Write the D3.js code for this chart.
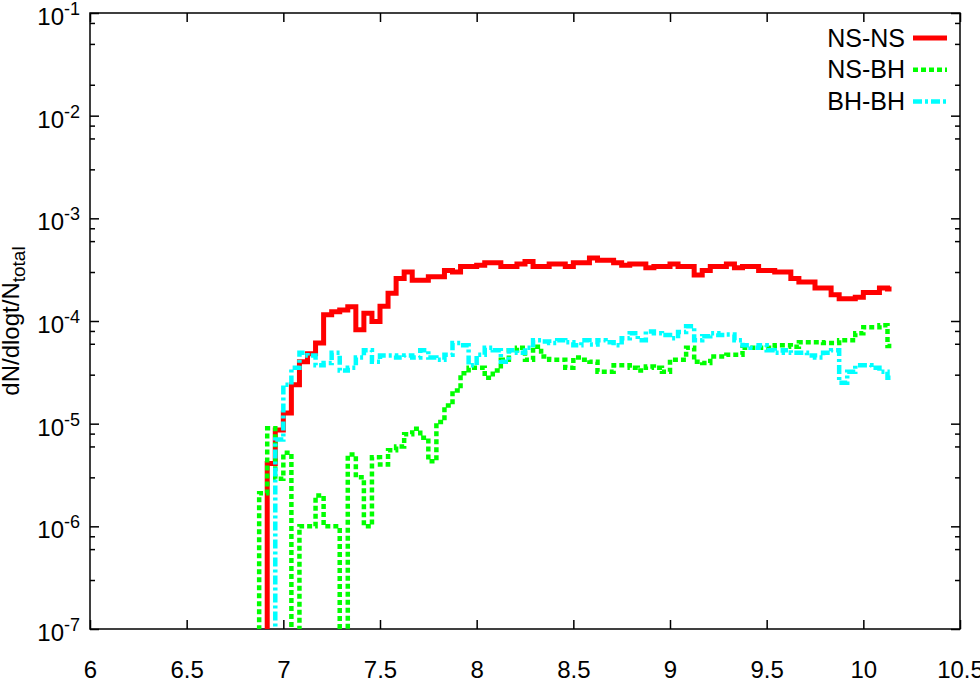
<!DOCTYPE html>
<html>
<head>
<meta charset="utf-8">
<script src="https://cdn.jsdelivr.net/npm/d3@7"></script>
<style>
  body { margin: 0; background: #fff; }
  svg { display: block; font-family: "Liberation Sans", Arial, sans-serif; }
</style>
</head>
<body>
<div id="chart"></div>
<script>
// bin centres in log t (1/24 wide bins)
const logT = [6.8542, 6.8958, 6.9375, 6.9792, 7.0208, 7.0625, 7.1042, 7.1458, 7.1875, 7.2292,
  7.2708, 7.3125, 7.3542, 7.3958, 7.4375, 7.4792, 7.5208, 7.5625, 7.6042, 7.6458,
  7.6875, 7.7292, 7.7708, 7.8125, 7.8542, 7.8958, 7.9375, 7.9792, 8.0208, 8.0625,
  8.1042, 8.1458, 8.1875, 8.2292, 8.2708, 8.3125, 8.3542, 8.3958, 8.4375, 8.4792,
  8.5208, 8.5625, 8.6042, 8.6458, 8.6875, 8.7292, 8.7708, 8.8125, 8.8542, 8.8958,
  8.9375, 8.9792, 9.0208, 9.0625, 9.1042, 9.1458, 9.1875, 9.2292, 9.2708, 9.3125,
  9.3542, 9.3958, 9.4375, 9.4792, 9.5208, 9.5625, 9.6042, 9.6458, 9.6875, 9.7292,
  9.7708, 9.8125, 9.8542, 9.8958, 9.9375, 9.9792, 10.0208, 10.0625, 10.1042, 10.1458];

const nsns = [0, 0, 4.1e-6, 8.7e-6, 1.27e-5, 2.4e-5, 4.0e-5, 4.8e-5, 6.1e-5, 1.15e-4,
  1.23e-4, 1.28e-4, 1.38e-4, 8.2e-5, 1.19e-4, 9.9e-5, 1.39e-4, 1.86e-4, 2.6e-4, 3.0e-4,
  2.5e-4, 2.5e-4, 2.7e-4, 2.7e-4, 3.1e-4, 3.0e-4, 3.4e-4, 3.4e-4, 3.5e-4, 3.7e-4,
  3.7e-4, 3.4e-4, 3.4e-4, 3.6e-4, 3.8e-4, 3.4e-4, 3.4e-4, 3.6e-4, 3.6e-4, 3.4e-4,
  3.7e-4, 3.7e-4, 4.1e-4, 3.9e-4, 3.9e-4, 3.7e-4, 3.5e-4, 3.6e-4, 3.6e-4, 3.3e-4,
  3.4e-4, 3.4e-4, 3.6e-4, 3.4e-4, 3.4e-4, 2.8e-4, 3.1e-4, 3.4e-4, 3.4e-4, 3.6e-4,
  3.3e-4, 3.4e-4, 3.4e-4, 3.1e-4, 3.1e-4, 3.0e-4, 3.0e-4, 2.6e-4, 2.4e-4, 2.4e-4,
  2.1e-4, 2.1e-4, 1.8e-4, 1.65e-4, 1.65e-4, 1.7e-4, 1.9e-4, 1.9e-4, 2.1e-4, 2.05e-4];

const nsbh = [0, 2.1e-6, 9.0e-6, 2.9e-6, 5.2e-6, 0, 1.0e-6, 1.0e-6, 2.0e-6, 1.0e-6,
  1.0e-6, 0, 5.0e-6, 3.0e-6, 1.0e-6, 4.7e-6, 4.0e-6, 5.5e-6, 6.0e-6, 7.9e-6,
  8.9e-6, 7.3e-6, 4.3e-6, 1.04e-5, 1.5e-5, 2.1e-5, 3.1e-5, 3.5e-5, 3.5e-5, 2.8e-5,
  3.3e-5, 4.2e-5, 5.2e-5, 5.5e-5, 4.2e-5, 5.6e-5, 4.5e-5, 4.2e-5, 4.2e-5, 3.5e-5,
  4.4e-5, 4.2e-5, 4.0e-5, 3.2e-5, 3.2e-5, 3.7e-5, 3.7e-5, 3.5e-5, 3.3e-5, 3.6e-5,
  3.5e-5, 3.2e-5, 4.2e-5, 4.2e-5, 5.5e-5, 4.0e-5, 3.9e-5, 4.5e-5, 4.5e-5, 4.7e-5,
  4.7e-5, 5.5e-5, 5.5e-5, 5.5e-5, 5.5e-5, 5.8e-5, 5.8e-5, 5.6e-5, 6.2e-5, 6.2e-5,
  6.2e-5, 6.1e-5, 6.1e-5, 6.5e-5, 6.5e-5, 7.6e-5, 8.7e-5, 8.7e-5, 9.1e-5, 5.7e-5];

const bhbh = [0, 0, 0, 7.0e-6, 2.4e-5, 3.5e-5, 4.9e-5, 4.6e-5, 3.7e-5, 3.9e-5,
  4.9e-5, 3.3e-5, 3.5e-5, 4.4e-5, 5.2e-5, 4.0e-5, 4.6e-5, 4.6e-5, 4.4e-5, 4.6e-5,
  4.4e-5, 5.2e-5, 4.4e-5, 4.2e-5, 4.7e-5, 6.1e-5, 5.8e-5, 3.7e-5, 4.7e-5, 5.5e-5,
  5.2e-5, 4.0e-5, 5.2e-5, 4.9e-5, 5.5e-5, 6.5e-5, 6.3e-5, 6.1e-5, 6.5e-5, 6.2e-5,
  5.8e-5, 6.5e-5, 5.9e-5, 6.5e-5, 6.2e-5, 5.8e-5, 6.8e-5, 7.6e-5, 6.5e-5, 7.9e-5,
  7.6e-5, 7.3e-5, 6.8e-5, 7.8e-5, 8.9e-5, 6.5e-5, 7.1e-5, 7.6e-5, 7.3e-5, 7.4e-5,
  6.5e-5, 5.8e-5, 5.5e-5, 5.8e-5, 5.2e-5, 4.9e-5, 5.2e-5, 4.9e-5, 4.9e-5, 4.6e-5,
  4.4e-5, 4.9e-5, 5.2e-5, 2.5e-5, 3.2e-5, 3.7e-5, 3.7e-5, 3.5e-5, 3.2e-5, 2.8e-5];

const seriesNames = ["NS-NS", "NS-BH", "BH-BH"];
const xTicks = [6, 6.5, 7, 7.5, 8, 8.5, 9, 9.5, 10, 10.5];
const yExponents = [-7, -6, -5, -4, -3, -2, -1];
const yMinorTicks = [3e-7, 6e-7, 8e-7, 3e-6, 6e-6, 8e-6, 3e-5, 6e-5, 8e-5,
  3e-4, 6e-4, 8e-4, 3e-3, 6e-3, 8e-3, 2e-2, 5e-2, 8e-2];

const W = 980, H = 686;
const mLeft = 90, mRight = 960, mTop = 13, mBottom = 629;

const svg = d3.select("#chart").append("svg")
  .attr("width", W)
  .attr("height", H);

const x = d3.scaleLinear().domain([6, 10.5]).range([mLeft, mRight]);
const y = d3.scaleLog().domain([1e-7, 1e-1]).range([mBottom, mTop]);

svg.append("clipPath").attr("id", "plotclip")
  .append("rect")
  .attr("x", mLeft).attr("y", mTop)
  .attr("width", mRight - mLeft).attr("height", mBottom - mTop);

// ticks (gnuplot style, pointing inward, mirrored)
const styleAxis = g => {
  g.select(".domain").remove();
  g.selectAll(".tick line").attr("stroke", "#000").attr("stroke-width", 1.5);
  g.selectAll("text").attr("font-size", 24).attr("fill", "#000")
    .attr("font-family", "Liberation Sans, Arial, sans-serif");
};

svg.append("g")
  .attr("transform", `translate(0,${mBottom})`)
  .call(d3.axisBottom(x).tickValues(xTicks).tickSizeInner(-9).tickSizeOuter(0)
    .tickPadding(32).tickFormat(d3.format("")))
  .call(styleAxis);

svg.append("g")
  .attr("transform", `translate(0,${mTop})`)
  .call(d3.axisTop(x).tickValues(xTicks).tickSizeInner(-9).tickSizeOuter(0).tickFormat(""))
  .call(styleAxis);

const yMajor = yExponents.map(e => Math.pow(10, e));

[[d3.axisLeft, mLeft], [d3.axisRight, mRight]].forEach(([axisFn, pos]) => {
  svg.append("g")
    .attr("transform", `translate(${pos},0)`)
    .call(axisFn(y).tickValues(yMajor).tickSizeInner(-9).tickSizeOuter(0).tickFormat(""))
    .call(styleAxis);
  svg.append("g")
    .attr("transform", `translate(${pos},0)`)
    .call(axisFn(y).tickValues(yMinorTicks).tickSizeInner(-5).tickSizeOuter(0).tickFormat(""))
    .call(styleAxis);
});

// y tick labels 10^e
const ylab = svg.append("g").selectAll("text")
  .data(yExponents)
  .join("text")
  .attr("x", mLeft - 10)
  .attr("y", d => y(Math.pow(10, d)) + 12)
  .attr("text-anchor", "end")
  .attr("font-size", 24)
  .attr("fill", "#000");
ylab.append("tspan").text("10");
ylab.append("tspan").attr("dy", -10).attr("font-size", 18).text(d => "-" + Math.abs(d));

// frame
svg.append("rect")
  .attr("x", mLeft).attr("y", mTop)
  .attr("width", mRight - mLeft).attr("height", mBottom - mTop)
  .attr("fill", "none").attr("stroke", "#000").attr("stroke-width", 1.5);

// axis titles
const yt = svg.append("text")
  .attr("transform", `translate(19,${(mTop + mBottom) / 2}) rotate(-90)`)
  .attr("text-anchor", "middle")
  .attr("font-size", 24)
  .attr("fill", "#000");
yt.append("tspan").text("dN/dlogt/N");
yt.append("tspan").attr("dy", 6).attr("font-size", 19).text("total");

svg.append("text")
  .attr("x", 522)
  .attr("y", 703)
  .attr("text-anchor", "middle")
  .attr("font-size", 24)
  .text("log t");

// step lines
const line = d3.line()
  .x((d, i) => x(logT[i]))
  .y(d => y(d > 0 ? d : 1e-9))
  .curve(d3.curveStep);

const styles = [
  { color: "#ff0000", width: 5, dash: null },
  { color: "#00ff00", width: 4.5, dash: "5,3" },
  { color: "#00ffff", width: 4.5, dash: "9,3,3,3" }
];
const series = [nsns, nsbh, bhbh];

const plot = svg.append("g").attr("clip-path", "url(#plotclip)");
series.forEach((s, i) => {
  plot.append("path")
    .datum(s)
    .attr("d", line)
    .attr("fill", "none")
    .attr("stroke", styles[i].color)
    .attr("stroke-width", styles[i].width)
    .attr("stroke-dasharray", styles[i].dash);
});

// legend
const legend = svg.append("g");
seriesNames.forEach((name, i) => {
  const by = 46.5 + i * 31.7;
  legend.append("text")
    .attr("x", 905).attr("y", by)
    .attr("text-anchor", "end")
    .attr("font-size", 25)
    .attr("fill", "#000")
    .text(name);
  legend.append("line")
    .attr("x1", 913).attr("x2", 947)
    .attr("y1", by - 8.5).attr("y2", by - 8.5)
    .attr("stroke", styles[i].color)
    .attr("stroke-width", styles[i].width)
    .attr("stroke-dasharray", styles[i].dash);
});
</script>
</body>
</html>
